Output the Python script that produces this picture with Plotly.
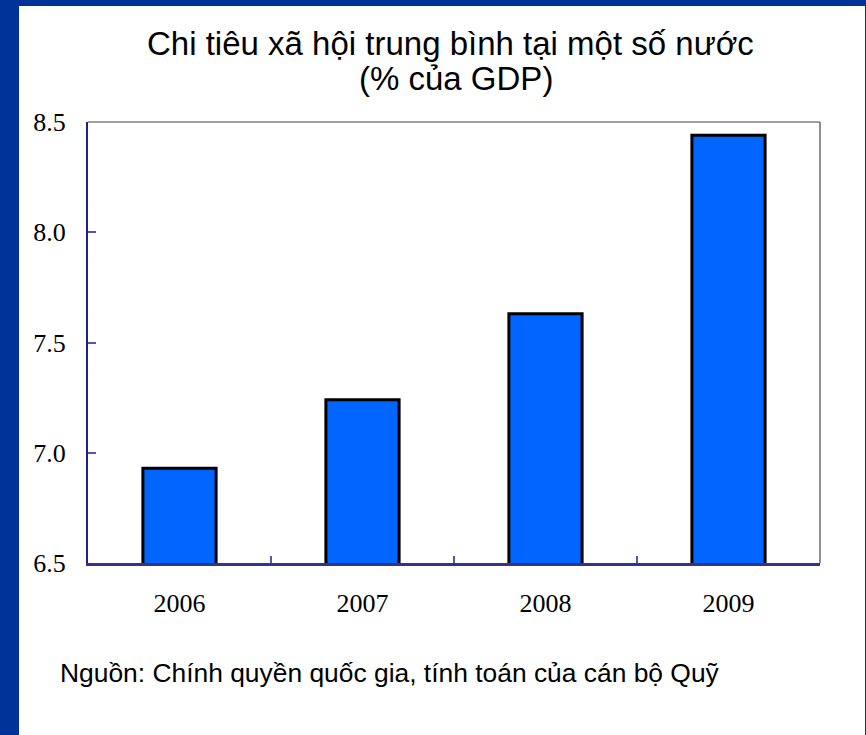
import plotly.graph_objects as go

years = ["2006", "2007", "2008", "2009"]
values = [6.93, 7.24, 7.63, 8.44]
y_ticks = [6.5, 7.0, 7.5, 8.0, 8.5]
y_tick_labels = ["6.5", "7.0", "7.5", "8.0", "8.5"]
title_lines = ["Chi tiêu xã hội trung bình tại một số nước", "(% của GDP)"]
source_text = "Nguồn: Chính quyền quốc gia, tính toán của cán bộ Quỹ"

W, H = 866, 735
L, R, T, B = 88, 46, 122, 172
pw, ph = W - L - R, H - T - B

def px_x(x):
    return (x - L) / pw

def px_y(y):
    return (H - B - y) / ph

fig = go.Figure()
fig.add_trace(go.Bar(
    x=years, y=values, width=0.4,
    marker=dict(color="#0066FF", line=dict(color="#000000", width=3)),
    hoverinfo="x+y",
))

shapes = [
    dict(type="rect", xref="paper", yref="paper", layer="below",
         x0=px_x(19), x1=px_x(865), y0=px_y(6), y1=px_y(745),
         fillcolor="white", line=dict(width=0)),
    dict(type="line", xref="paper", yref="paper", x0=0, x1=1, y0=1, y1=1,
         line=dict(color="#444444", width=1.2)),
    dict(type="line", xref="paper", yref="paper", x0=1, x1=1, y0=0, y1=1,
         line=dict(color="#444444", width=1.2)),
]

title_font = dict(family="Liberation Sans, Arial", size=33, color="#000000")
annotations = [
    dict(text=title_lines[0], xref="paper", yref="paper", x=px_x(450), y=px_y(43),
         xanchor="center", yanchor="middle", showarrow=False, font=title_font),
    dict(text=title_lines[1], xref="paper", yref="paper", x=px_x(456), y=px_y(78),
         xanchor="center", yanchor="middle", showarrow=False, font=title_font),
    dict(text=source_text, xref="paper", yref="paper",
         x=px_x(58), y=px_y(673), xanchor="left", yanchor="middle",
         showarrow=False,
         font=dict(family="Liberation Sans, Arial", size=26.4, color="#000000")),
]

fig.update_layout(
    width=W, height=H,
    margin=dict(l=L, r=R, t=T, b=B, pad=0),
    paper_bgcolor="#003399",
    plot_bgcolor="white",
    showlegend=False,
    shapes=shapes,
    annotations=annotations,
    xaxis=dict(
        type="category", showgrid=False, zeroline=False,
        showline=True, linecolor="#333388", linewidth=2.5,
        ticks="inside", tickson="boundaries", ticklen=7, tickcolor="#5555aa", tickwidth=1.5,
        tickfont=dict(family="Liberation Serif", size=26, color="#000000"),
        ticklabelstandoff=15,
    ),
    yaxis=dict(
        range=[6.5, 8.5], tickvals=y_ticks, ticktext=y_tick_labels,
        showgrid=False, zeroline=False,
        showline=True, linecolor="#1f1f8f", linewidth=2,
        ticks="inside", ticklen=8, tickcolor="#5555bb", tickwidth=1.5,
        tickfont=dict(family="Liberation Serif", size=26, color="#000000"),
        ticklabelstandoff=15,
    ),
)

fig.write_html("out.html", config={"displayModeBar": False},
               post_script="document.body.style.margin='0';")
